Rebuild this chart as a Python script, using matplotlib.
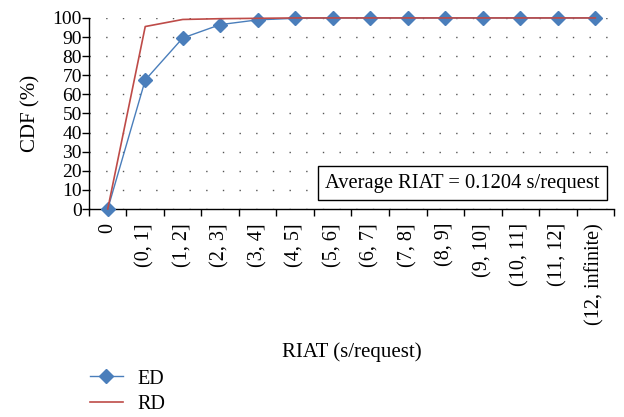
import matplotlib
matplotlib.use("Agg")
import matplotlib.pyplot as plt
from matplotlib.lines import Line2D
import numpy as np

categories = ["0", "(0, 1]", "(1, 2]", "(2, 3]", "(3, 4]", "(4, 5]", "(5, 6]", "(6, 7]",
              "(7, 8]", "(8, 9]", "(9, 10]", "(10, 11]", "(11, 12]", "(12, infinite)"]
ed_values = [0, 67.5, 89.5, 96.5, 99.0, 99.8, 100, 100, 100, 100, 100, 100, 100, 100]
rd_values = [0, 95.5, 99.2, 99.6, 99.8, 100, 100, 100, 100, 100, 100, 100, 100, 100]
y_ticks = list(range(0, 101, 10))

plt.rcParams['font.family'] = ['Liberation Serif', 'DejaVu Serif']

fig = plt.figure(figsize=(6.24, 4.17), dpi=100)
ax = fig.add_axes([0.1426, 0.4988, 0.8414, 0.4582])

x = np.arange(len(categories))
blue = "#4a7ebb"
red = "#be4b48"
ax.plot(x, ed_values, color=blue, lw=1.0, marker="D", ms=7.5, mfc=blue, mec=blue, zorder=3,
        clip_on=False)
ax.plot(x, rd_values, color=red, lw=1.2, zorder=4, clip_on=False)

ax.set_xlim(-0.5, len(categories) - 0.5)
ax.set_ylim(0, 100)
ax.set_yticks(y_ticks)
ax.tick_params(axis='y', labelsize=14, length=5, direction='out', width=1, pad=0)
ax.set_xticks(x)
ax.set_xticklabels(categories, rotation=90, fontsize=14.5)
ax.tick_params(axis='x', length=0, pad=10)
ax.set_xticks(np.arange(len(categories) + 1) - 0.5, minor=True)
ax.tick_params(axis='x', which='minor', length=5, width=1, direction='out')

for s in ['top', 'right']:
    ax.spines[s].set_visible(False)
for s in ['left', 'bottom']:
    ax.spines[s].set_linewidth(1.0)
    ax.spines[s].set_color('black')

ax.grid(axis='y', which='major', color='#555555', linestyle=(0, (1, 11)), linewidth=1.0)
ax.set_axisbelow(True)

ax.set_ylabel("CDF (%)", fontsize=15, labelpad=9)
fig.text(0.564, 0.156, "RIAT (s/request)", fontsize=15, ha='center', va='center')

ax.text(0.973, 0.136, "Average RIAT = 0.1204 s/request", transform=ax.transAxes,
        fontsize=14.8, ha='right', va='center',
        bbox=dict(boxstyle='square,pad=0.35', fc='white', ec='black', lw=1.0), zorder=5)

handles = [Line2D([], [], color=blue, lw=1.0, marker="D", ms=7.5),
           Line2D([], [], color=red, lw=1.2)]
fig.legend(handles, ["ED", "RD"], loc='center left', bbox_to_anchor=(0.144, 0.061),
           frameon=False, fontsize=14.5, handlelength=1.65, handletextpad=0.7,
           labelspacing=0.3, borderaxespad=0, borderpad=0)

fig.savefig("out.png", dpi=100)
